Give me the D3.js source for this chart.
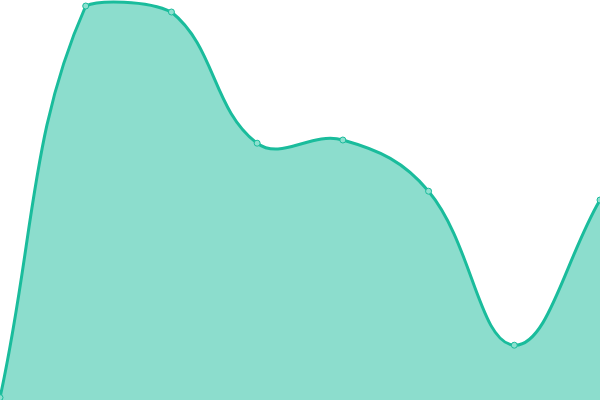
<!DOCTYPE html>
<html>
<head>
<meta charset="utf-8">
<script src="https://cdn.jsdelivr.net/npm/d3@7"></script>
<style>
  body { margin: 0; background: #fff; }
</style>
</head>
<body>
<script>
var width = 600,
    height = 400;

// one value per point, left to right
var steps = [0, 1, 2, 3, 4, 5, 6, 7];
var values = [0.6, 98.5, 97, 64.2, 65, 52.2, 13.7, 50];

var data = steps.map(function(s, i) { return {x: s, y: values[i]}; });

var svg = d3.select("body")
      .append("svg")
      .attr("width", width)
      .attr("height", height);

var xScale = d3.scaleLinear()
      .domain([0, 7])
      .range([0, width]);
var yScale = d3.scaleLinear()
      .domain([0, 100])
      .range([height, 0]);

var color = "#1abc9c";

// spline with tension 0.4, control points kept inside the drawing area
function TensionCurve(context) { this._context = context; }
TensionCurve.prototype = {
  areaStart: function() { this._line = 0; },
  areaEnd: function() { this._line = NaN; },
  lineStart: function() { this._x = []; this._y = []; },
  point: function(x, y) { this._x.push(+x); this._y.push(+y); },
  lineEnd: function() {
    var x = this._x, y = this._y, n = x.length, t = 0.4;
    var clampX = v => Math.max(0, Math.min(width, v)),
        clampY = v => Math.max(0, Math.min(height, v));
    if (n) {
      this._line ? this._context.lineTo(x[0], y[0]) : this._context.moveTo(x[0], y[0]);
      var cp = [];
      for (var i = 0; i < n; i++) {
        var p = i > 0 ? i - 1 : i, q = i < n - 1 ? i + 1 : i;
        var d01 = Math.hypot(x[i] - x[p], y[i] - y[p]),
            d12 = Math.hypot(x[q] - x[i], y[q] - y[i]);
        var s01 = d01 / (d01 + d12) || 0,
            s12 = d12 / (d01 + d12) || 0;
        var dx = x[q] - x[p], dy = y[q] - y[p];
        cp.push({
          px: clampX(x[i] - t * s01 * dx), py: clampY(y[i] - t * s01 * dy),
          nx: clampX(x[i] + t * s12 * dx), ny: clampY(y[i] + t * s12 * dy)
        });
      }
      for (var j = 1; j < n; j++) {
        this._context.bezierCurveTo(cp[j - 1].nx, cp[j - 1].ny, cp[j].px, cp[j].py, x[j], y[j]);
      }
    }
    if (this._line || (this._line !== 0 && n === 1)) this._context.closePath();
    this._line = 1 - this._line;
  }
};
var curveTension = function(context) { return new TensionCurve(context); };

var area = d3.area()
      .x(d => xScale(d.x))
      .y0(height)
      .y1(d => yScale(d.y))
      .curve(curveTension);

var line = d3.line()
      .x(d => xScale(d.x))
      .y(d => yScale(d.y))
      .curve(curveTension);

svg.append("path")
      .datum(data)
      .attr("fill", color)
      .attr("fill-opacity", 0.5)
      .attr("d", area);

svg.append("path")
      .datum(data)
      .attr("fill", "none")
      .attr("stroke", color)
      .attr("stroke-width", 3)
      .attr("d", line);

svg.selectAll("circle")
      .data(data)
      .enter().append("circle")
        .attr("cx", d => xScale(d.x))
        .attr("cy", d => yScale(d.y))
        .attr("r", 3)
        .attr("fill", "#8de0cf")
        .attr("stroke", color)
        .attr("stroke-width", 1);
</script>
</body>
</html>
